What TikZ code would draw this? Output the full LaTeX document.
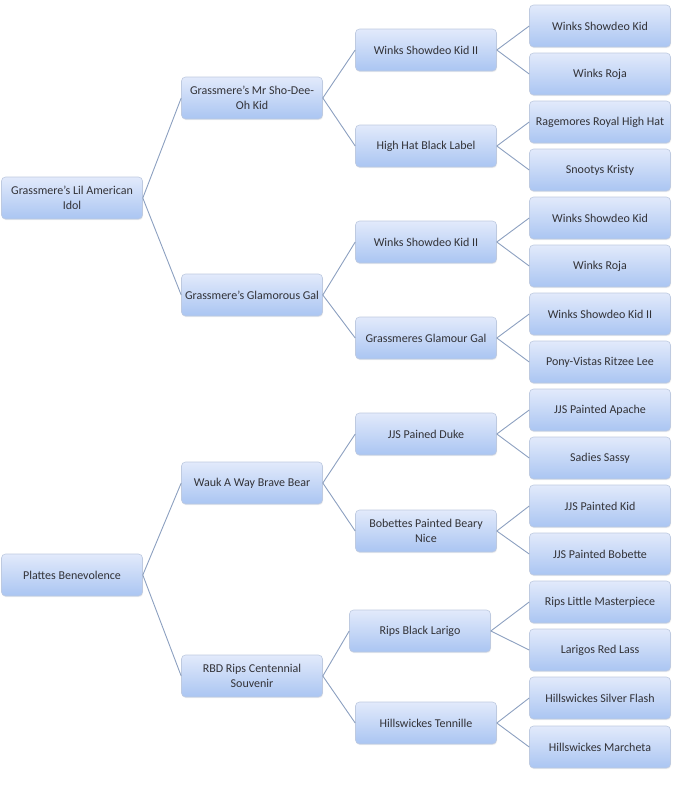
\documentclass[tikz,border=0pt]{standalone}
\usepackage{fontspec}
\setmainfont{Carlito}
\usetikzlibrary{shadows}
\definecolor{boxtop}{RGB}{226,234,251}
\definecolor{boxbot}{RGB}{170,197,242}
\definecolor{boxline}{RGB}{190,202,224}
\definecolor{txt}{RGB}{50,50,55}
\definecolor{edge}{RGB}{140,160,192}
\tikzset{
  pbox/.style={rectangle, rounded corners=4pt, minimum width=141pt, minimum height=42pt,
    inner sep=1pt, top color=boxtop, bottom color=boxbot, draw=boxline, line width=0.6pt,
    text=txt, align=center, font=\fontsize{12}{14.5}\selectfont,
    drop shadow={opacity=0.12, shadow xshift=0.6pt, shadow yshift=-1.2pt}},
  link/.style={draw=edge, line width=0.9pt}
}
\begin{document}
\begin{tikzpicture}[x=1pt,y=-1pt]
\useasboundingbox (0,0) rectangle (675,809);
% column 1
\node[pbox] (a) at (72,198) {Grassmere’s Lil American\\Idol};
\node[pbox] (b) at (72,575) {Plattes Benevolence};
% column 2
\node[pbox] (a1) at (252,98) {Grassmere’s Mr Sho-Dee-\\Oh Kid};
\node[pbox] (a2) at (252,295) {Grassmere’s Glamorous Gal};
\node[pbox] (b1) at (252,483) {Wauk A Way Brave Bear};
\node[pbox] (b2) at (252,676) {RBD Rips Centennial\\Souvenir};
% column 3
\node[pbox] (a11) at (426,50) {Winks Showdeo Kid II};
\node[pbox] (a12) at (426,146) {High Hat Black Label};
\node[pbox] (a21) at (426,242) {Winks Showdeo Kid II};
\node[pbox] (a22) at (426,338) {Grassmeres Glamour Gal};
\node[pbox] (b11) at (426,434) {JJS Pained Duke};
\node[pbox] (b12) at (426,531) {Bobettes Painted Beary\\Nice};
\node[pbox] (b21) at (420,631) {Rips Black Larigo};
\node[pbox] (b22) at (426,723) {Hillswickes Tennille};
% column 4
\node[pbox] (a111) at (600,26) {Winks Showdeo Kid};
\node[pbox] (a112) at (600,74) {Winks Roja};
\node[pbox] (a121) at (600,122) {Ragemores Royal High Hat};
\node[pbox] (a122) at (600,170) {Snootys Kristy};
\node[pbox] (a211) at (600,218) {Winks Showdeo Kid};
\node[pbox] (a212) at (600,266) {Winks Roja};
\node[pbox] (a221) at (600,314) {Winks Showdeo Kid II};
\node[pbox] (a222) at (600,362) {Pony-Vistas Ritzee Lee};
\node[pbox] (b111) at (600,410) {JJS Painted Apache};
\node[pbox] (b112) at (600,458) {Sadies Sassy};
\node[pbox] (b121) at (600,506) {JJS Painted Kid};
\node[pbox] (b122) at (600,554) {JJS Painted Bobette};
\node[pbox] (b211) at (600,602) {Rips Little Masterpiece};
\node[pbox] (b212) at (600,650) {Larigos Red Lass};
\node[pbox] (b221) at (600,698) {Hillswickes Silver Flash};
\node[pbox] (b222) at (600,747) {Hillswickes Marcheta};
% connectors
\foreach \p/\c in {a/a1,a/a2,b/b1,b/b2,
  a1/a11,a1/a12,a2/a21,a2/a22,b1/b11,b1/b12,b2/b21,b2/b22,
  a11/a111,a11/a112,a12/a121,a12/a122,a21/a211,a21/a212,a22/a221,a22/a222,
  b11/b111,b11/b112,b12/b121,b12/b122,b21/b211,b21/b212,b22/b221,b22/b222}
  \draw[link] (\p.east) -- (\c.west);
\end{tikzpicture}
\end{document}
